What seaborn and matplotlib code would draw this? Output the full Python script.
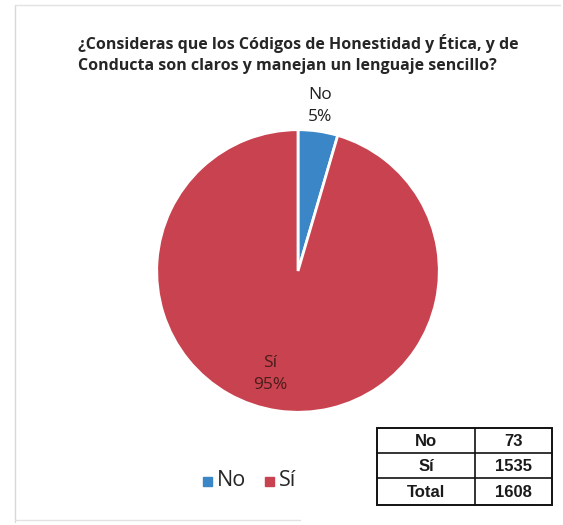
import matplotlib
matplotlib.use("Agg")
import matplotlib.pyplot as plt
import seaborn as sns
from matplotlib.patches import Rectangle

# data
labels = ["No", "Sí"]
counts = [73, 1535]
table_rows = ["No", "Sí", "Total"]
table_vals = [73, 1535, 1608]
colors = ["#3a86c6", "#c8434f"]

title = ("\u00bfConsideras que los Códigos de Honestidad y Ética, y de\n"
         "Conducta son claros y manejan un lenguaje sencillo?")

sns.set_theme(style="white")
plt.rcParams["font.family"] = ["Open Sans", "DejaVu Sans"]

fig = plt.figure(figsize=(5.63, 5.25), dpi=100)

# pie
ax = fig.add_axes([(298 - 142) / 563, (525 - 413) / 525, 284 / 563, 284 / 525])
total = sum(counts)
wedges, _ = ax.pie(counts, colors=colors, startangle=90, counterclock=False,
                   wedgeprops=dict(edgecolor="white", linewidth=2))
ax.set_aspect("auto")
ax.set_xlim(-1.005, 1.005)
ax.set_ylim(-1.005, 1.005)

# overlay layer in pixel coords for frame, title, labels, legend and table
bg = fig.add_axes([0, 0, 1, 1])
bg.set_xlim(0, 563)
bg.set_ylim(525, 0)
bg.axis("off")
bg.patch.set_alpha(0)
bg.set_zorder(3)

# faint chart frame
bg.plot([15, 15], [5, 522], color="#d8d8d8", lw=1)
bg.plot([15, 560], [5, 5], color="#e2e2e2", lw=1)
bg.plot([15, 300], [520, 520], color="#e2e2e2", lw=1)

bg.text(78, 54, title, ha="left", va="center", fontsize=11.5,
        fontweight="bold", color="#262626", linespacing=1.35)

pcts = [round(c / total * 100) for c in counts]
bg.text(320, 106, f"{labels[0]}\n{pcts[0]}%", ha="center", va="center",
        fontsize=12.5, color="#1f1f1f", linespacing=1.55)
bg.text(270, 374, f"{labels[1]}\n{pcts[1]}%", ha="center", va="center",
        fontsize=12.5, color="#4a1c1c", linespacing=1.55)

# legend
for x, lab, col in [(207, labels[0], colors[0]), (269, labels[1], colors[1])]:
    bg.add_patch(Rectangle((x - 4.5, 477), 9, 9, color=col))
    bg.text(x + 10, 481, lab, ha="left", va="center", fontsize=15.5, color="#262626")

# table
x0, x1, xm = 377, 552, 475
ys = [428, 453, 478, 505]
bg.add_patch(Rectangle((x0, ys[0]), x1 - x0, ys[-1] - ys[0], fill=False,
                       edgecolor="#111111", lw=1.4))
bg.plot([xm, xm], [ys[0], ys[-1]], color="#111111", lw=1.2)
for y in ys[1:-1]:
    bg.plot([x0, x1], [y, y], color="#111111", lw=1.2)
for i, (r, v) in enumerate(zip(table_rows, table_vals)):
    yc = (ys[i] + ys[i + 1]) / 2 + 1
    bg.text((x0 + xm) / 2, yc, r, ha="center", va="center", fontsize=12,
            fontweight="bold", family="Liberation Sans", color="#1a1a1a")
    bg.text((xm + x1) / 2, yc, str(v), ha="center", va="center", fontsize=12,
            fontweight="bold", family="Liberation Sans", color="#1a1a1a")

fig.savefig("out.png", dpi=100)
plt.close(fig)
